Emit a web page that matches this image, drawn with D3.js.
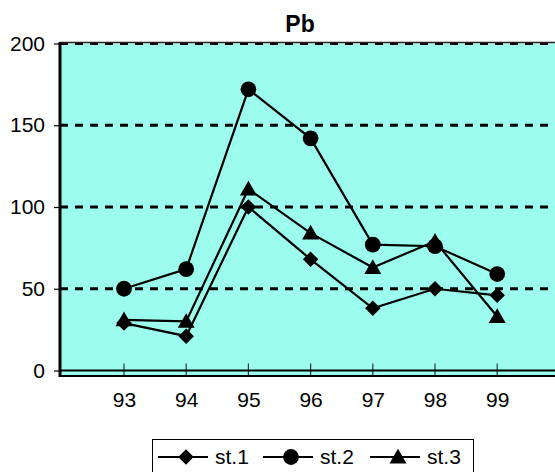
<!DOCTYPE html>
<html><head><meta charset="utf-8">
<script src="https://cdn.jsdelivr.net/npm/d3@7"></script>
<style>body{margin:0;background:#fff}svg{display:block}</style>
</head><body>
<svg id="c" width="555" height="472"></svg>
<script>
const years = [93, 94, 95, 96, 97, 98, 99];
const st1 = [29, 21, 100, 68, 38, 50, 46];
const st2 = [50, 62, 172, 142, 77, 76, 59];
const st3 = [31, 30, 111, 84, 63, 79, 33];
const yTicks = [0, 50, 100, 150, 200];
const seriesNames = ["st.1", "st.2", "st.3"];
const title = "Pb";

(function () {
const svg = d3.select("#c");
const font = "Arial, 'Liberation Sans', sans-serif";
const pLeft = 60, pTop = 43.5, zeroY = 370.5, pBottom = 376;
const x = d3.scaleLinear().domain([92, 100]).range([61.8, 61.8 + 8 * 62.2]);
const y = d3.scaleLinear().domain([0, 200]).range([zeroY, pTop]);

// plot area
svg.append("rect").attr("x", pLeft).attr("y", pTop).attr("width", 555 - pLeft + 5).attr("height", pBottom - pTop)
  .attr("fill", "#9cfdef");

// gridlines
svg.append("g").selectAll("line").data(yTicks.filter(d => d > 0)).join("line")
  .attr("x1", pLeft).attr("x2", 560).attr("y1", d => y(d)).attr("y2", d => y(d))
  .attr("stroke", "#000").attr("stroke-width", 3).attr("stroke-dasharray", "8,7");
svg.append("line").attr("x1", pLeft).attr("x2", 560).attr("y1", pTop - 1).attr("y2", pTop - 1)
  .attr("stroke", "#222").attr("stroke-width", 1.5);

// y axis
const ya = svg.append("g").attr("transform", `translate(${pLeft},0)`)
  .call(d3.axisLeft(y).tickValues(yTicks).tickSize(6).tickPadding(9).tickFormat(d3.format("d")));
ya.select(".domain").remove();
ya.selectAll("line").attr("stroke", "#000").attr("stroke-width", 1.2);
ya.selectAll("text").attr("font-family", font).attr("font-size", 21).attr("fill", "#000");

// x axis
const xa = svg.append("g").attr("transform", `translate(0,${zeroY})`)
  .call(d3.axisBottom(x).tickValues(years).tickSize(0).tickPadding(22).tickFormat(d3.format("d")));
xa.select(".domain").remove();
xa.selectAll("text").attr("font-family", font).attr("font-size", 21).attr("fill", "#000");
svg.append("g").selectAll("line").data(years).join("line")
  .attr("x1", d => x(d)).attr("x2", d => x(d)).attr("y1", zeroY - 7).attr("y2", pBottom)
  .attr("stroke", "#333").attr("stroke-width", 1.2);

// axis lines / borders
svg.append("line").attr("x1", pLeft).attr("x2", 560).attr("y1", zeroY).attr("y2", zeroY)
  .attr("stroke", "#000").attr("stroke-width", 2);
svg.append("line").attr("x1", pLeft).attr("x2", 560).attr("y1", pBottom).attr("y2", pBottom)
  .attr("stroke", "#000").attr("stroke-width", 2);
svg.append("line").attr("x1", pLeft).attr("x2", pLeft).attr("y1", pTop - 1.5).attr("y2", pBottom + 1)
  .attr("stroke", "#000").attr("stroke-width", 3);

// series
const shapes = [d3.symbolSquare, d3.symbolCircle, d3.symbolTriangle];
const sizes = [120, 195, 125];
const rot = [45, 0, 0];
const dy = [0, 0, 1.5];
const data = [st1, st2, st3];
const line = d3.line().x((d, i) => x(years[i])).y(d => y(d));
data.forEach((vals) => {
  svg.append("path").attr("d", line(vals)).attr("fill", "none").attr("stroke", "#000").attr("stroke-width", 2.2);
});
data.forEach((vals, k) => {
  svg.append("g").selectAll("path").data(vals).join("path")
    .attr("transform", (d, i) => `translate(${x(years[i])},${y(d) + dy[k]}) rotate(${rot[k]})`)
    .attr("d", d3.symbol().type(shapes[k]).size(sizes[k])).attr("fill", "#000");
});

// title
svg.append("text").attr("x", 300).attr("y", 32).attr("text-anchor", "middle")
  .attr("font-family", font).attr("font-weight", "bold").attr("font-size", 23).text(title);

// legend
const lg = svg.append("g");
lg.append("rect").attr("x", 152.5).attr("y", 439.5).attr("width", 321).attr("height", 40)
  .attr("fill", "#fff").attr("stroke", "#000").attr("stroke-width", 1);
const lx = [158, 263, 370];
seriesNames.forEach((n, k) => {
  lg.append("line").attr("x1", lx[k]).attr("x2", lx[k] + 50).attr("y1", 457).attr("y2", 457)
    .attr("stroke", "#000").attr("stroke-width", 2.2);
  lg.append("path").attr("transform", `translate(${lx[k] + 28},${457 + dy[k]}) rotate(${rot[k]})`)
    .attr("d", d3.symbol().type(shapes[k]).size(sizes[k])).attr("fill", "#000");
  lg.append("text").attr("x", lx[k] + 57).attr("y", 464).attr("font-family", font).attr("font-size", 21).text(n);
});
})();
</script>
</body></html>
